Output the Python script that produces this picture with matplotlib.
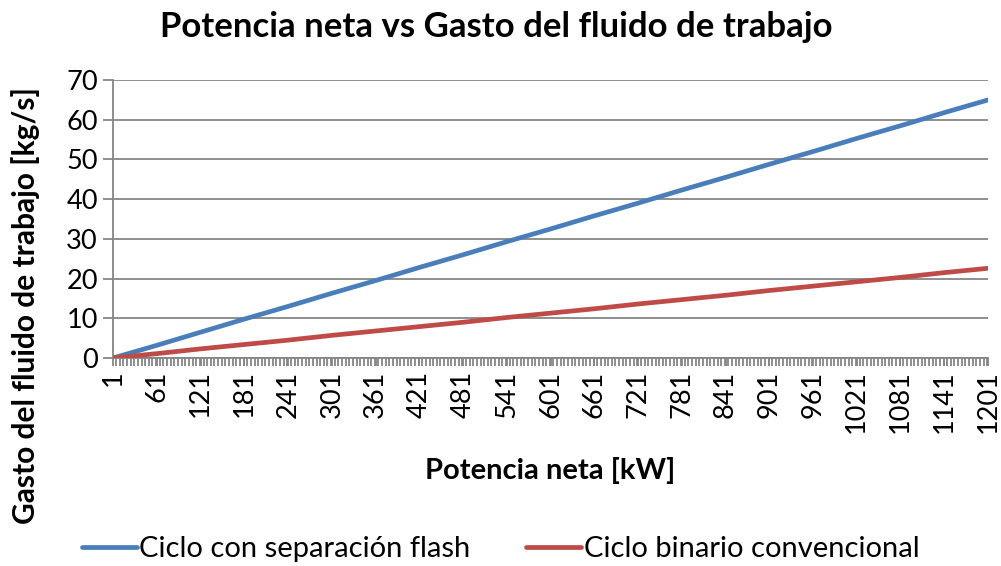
import numpy as np
import matplotlib
matplotlib.use("Agg")
import matplotlib.pyplot as plt
from matplotlib.ticker import MultipleLocator

plt.rcParams['font.family'] = ['Lato', 'DejaVu Sans']

# potencia neta [kW] at the labelled categories
potencia = [1, 61, 121, 181, 241, 301, 361, 421, 481, 541, 601,
            661, 721, 781, 841, 901, 961, 1021, 1081, 1141, 1201]
# gasto del fluido de trabajo [kg/s]
gasto_flash = [0.0, 3.2, 6.5, 9.8, 13.0, 16.3, 19.5, 22.8, 26.0, 29.3, 32.5,
               35.8, 39.0, 42.3, 45.5, 48.8, 52.0, 55.3, 58.5, 61.8, 65.0]
gasto_binario = [0.0, 1.1, 2.3, 3.4, 4.5, 5.7, 6.8, 7.9, 9.0, 10.2, 11.3,
                 12.4, 13.6, 14.7, 15.8, 17.0, 18.1, 19.2, 20.3, 21.5, 22.6]

grey = '#868686'

fig = plt.figure(figsize=(10.01, 5.66), dpi=100)
ax = fig.add_axes([0.113, 0.3675, 0.874, 0.491])

ax.plot(potencia, gasto_flash, color='#4a7ebb', lw=3.4, solid_capstyle='round',
        label='Ciclo con separación flash', zorder=3)
ax.plot(potencia, gasto_binario, color='#be4b48', lw=3.4, solid_capstyle='round',
        label='Ciclo binario convencional', zorder=3)

ax.set_xlim(1, 1201)
ax.set_ylim(0, 70)
ax.set_yticks(range(0, 71, 10))
ax.set_xticks(potencia)
ax.xaxis.set_minor_locator(MultipleLocator(5))
ax.set_xticklabels([str(p) for p in potencia], rotation=90)

ax.grid(axis='y', color=grey, lw=1.3)
ax.set_axisbelow(True)
for s in ['top', 'right']:
    ax.spines[s].set_visible(False)
for s in ['left', 'bottom']:
    ax.spines[s].set_color(grey)
    ax.spines[s].set_linewidth(1.3)

ax.tick_params(axis='y', which='major', length=7, width=1.3, color=grey,
               labelsize=19.5, pad=4)
ax.tick_params(axis='x', which='both', length=6, width=1.3, color=grey,
               labelsize=19.5, pad=3)

fig.text(0.496, 1 - 27 / 566, 'Potencia neta vs Gasto del fluido de trabajo',
         fontsize=25, fontweight='bold', ha='center', va='center')
ax.set_xlabel('Potencia neta [kW]', fontsize=21, fontweight='bold')
ax.xaxis.set_label_coords(0.5, -0.355)
ax.set_ylabel('Gasto del fluido de trabajo [kg/s]', fontsize=21.5,
              fontweight='bold')
ax.yaxis.set_label_coords(-0.083, 0.19)

fig.legend(loc='center', bbox_to_anchor=(0.5, 1 - 549 / 566), ncol=2,
           frameon=False, fontsize=21, handlelength=1.9, handletextpad=0.08,
           columnspacing=1.9, borderpad=0)

fig.savefig('out.png', dpi=100)
